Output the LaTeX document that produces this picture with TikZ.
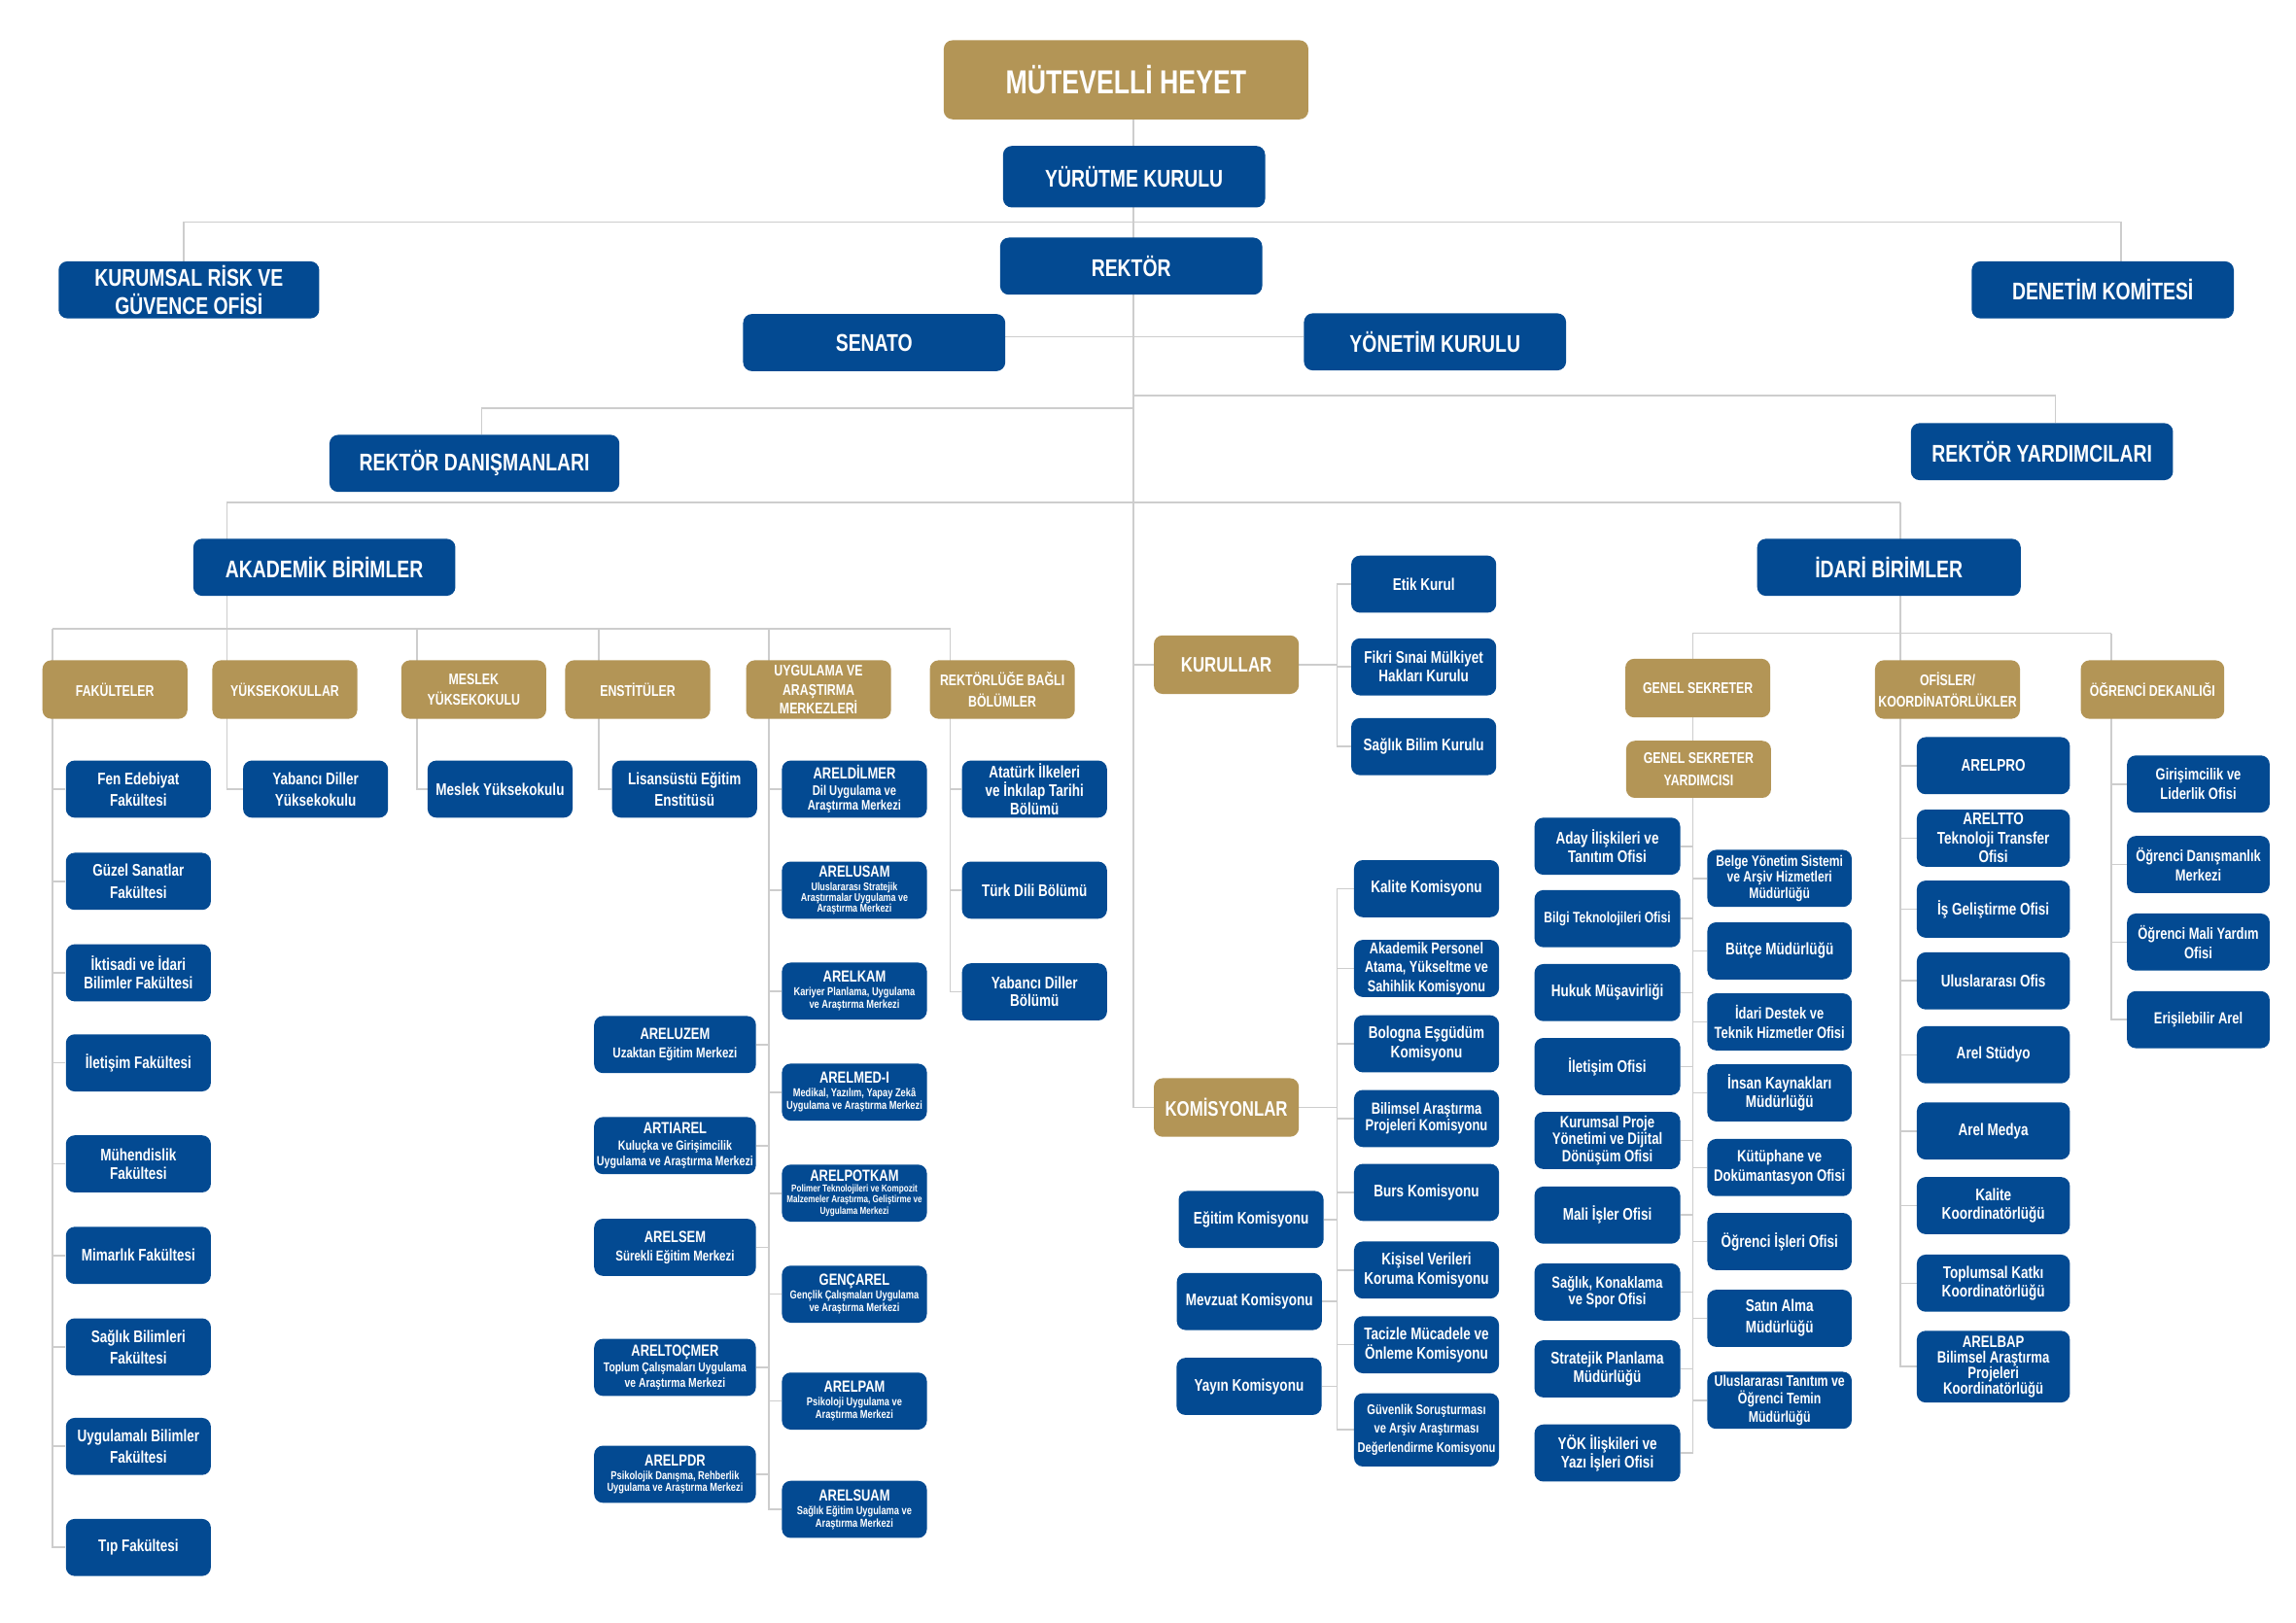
\documentclass[tikz,border=0pt]{standalone}
\usepackage{fontspec}
\usetikzlibrary{backgrounds}

\newfontfamily\arelfont[FakeStretch=0.78]{Liberation Sans}
\newcommand\fsz[2]{\fontsize{#1}{#2}\selectfont}

\definecolor{arelblue}{HTML}{034A92}
\definecolor{arelgold}{HTML}{B39556}
\definecolor{linegray}{HTML}{CDCDCD}

\tikzset{
  unit/.style={rounded corners=6pt, text=white, align=center, inner sep=0pt},
  txt/.style 2 args={font=\arelfont\bfseries\fsz{#1}{#2}},
  bluebox/.style={unit, fill=arelblue, minimum width=99pt, minimum height=39pt, txt={11.5}{13}},
  facbox/.style={bluebox, txt={11.5}{14.7}},
  arelbox/.style={bluebox},
  arelleft/.style={bluebox, minimum width=110.5pt},
  goldbox/.style={unit, fill=arelgold, minimum width=99pt, minimum height=40pt, txt={10.5}{14.5}},
  headbox/.style={unit, fill=arelblue, minimum width=179pt, minimum height=39pt, txt={16.5}{19}},
  conn/.style={draw=linegray, line width=1.1pt},
}

\begin{document}
\begin{tikzpicture}[x=1pt, y=-1pt]
	% Define coordinates
	% spine of the chart (spine), buses of the upper branches
	\coordinate (spine) at (774,0);
	\coordinate (kurumsaldrop) at (125.4,151.7);
	\coordinate (denetimdrop) at (1448.6,151.7);
	\coordinate (vicebus) at (1403.7,270);
	\coordinate (advbus) at (329,279);
	% left and right end of the bus to the units (akx, idx)
	\coordinate (akx) at (155,343);
	\coordinate (idx) at (1297.6,343);
	% academic bus and its drops
	\coordinate (akbusL) at (36,429.5);
	\coordinate (akbusR) at (649,429.5);
	\coordinate (meslekx) at (285,429.5);
	\coordinate (enstx) at (409,429.5);
	\coordinate (uygx) at (525,429.5);
	% boards and commissions (kurx), administrative bus (gsx, dekx)
	\coordinate (kurx) at (913,0);
	\coordinate (gsx) at (1156,432.5);
	\coordinate (dekx) at (1442,432.5);

	% Board, executive and rector level
	\node[goldbox, minimum width=249pt, minimum height=54pt, txt={22.7}{26}] (mutevelli) at (769,54.5) {MÜTEVELLİ HEYET};
	\node[headbox, minimum height=42pt] (yurutme) at (774.5,120.7) {YÜRÜTME KURULU};
	\node[headbox] (rektor) at (772.5,181.8) {REKTÖR};
	\node[headbox, minimum width=178pt] (kurumsal) at (129,198) {KURUMSAL RİSK VE\\GÜVENCE OFİSİ};
	\node[headbox] (denetim) at (1436,198) {DENETİM KOMİTESİ};
	\node[headbox] (senato) at (597,234) {SENATO};
	\node[headbox] (yonetim) at (980,233.5) {YÖNETİM KURULU};
	\node[headbox, minimum width=198pt] (danisman) at (324,316.5) {REKTÖR DANIŞMANLARI};
	\node[headbox] (yardimci) at (1394.5,308.5) {REKTÖR YARDIMCILARI};
	\node[headbox] (akademik) at (221.5,387.5) {AKADEMİK BİRİMLER};
	\node[headbox, minimum width=180pt] (idari) at (1290,387.5) {İDARİ BİRİMLER};

	% Academic groups
	\node[goldbox] (fak) at (78.5,471) {FAKÜLTELER};
	\node[goldbox] (yuksek) at (194.5,471) {YÜKSEKOKULLAR};
	\node[goldbox, txt={10.5}{14.2}] (meslek) at (323.5,471) {MESLEK\\YÜKSEKOKULU};
	\node[goldbox] (enst) at (435.5,471) {ENSTİTÜLER};
	\node[goldbox, txt={10.5}{13}] (uygmer) at (559,471) {UYGULAMA VE\\ARAŞTIRMA\\MERKEZLERİ};
	\node[goldbox] (bolum) at (684.5,471) {REKTÖRLÜĞE BAĞLI\\BÖLÜMLER};

	% Faculties
	\node[facbox] (fen) at (94.5,539) {Fen Edebiyat\\Fakültesi};
	\node[facbox] (guzel) at (94.5,602) {Güzel Sanatlar\\Fakültesi};
	\node[facbox, txt={11.5}{12.7}] (iktisat) at (94.5,664.5) {İktisadi ve İdari\\Bilimler Fakültesi};
	\node[facbox] (iletisim) at (94.5,726) {İletişim Fakültesi};
	\node[facbox, txt={11.5}{12.8}] (muhendis) at (94.5,795) {Mühendislik\\Fakültesi};
	\node[facbox] (mimar) at (94.5,857.5) {Mimarlık Fakültesi};
	\node[facbox] (sagbil) at (94.5,920) {Sağlık Bilimleri\\Fakültesi};
	\node[facbox] (uygbil) at (94.5,988) {Uygulamalı Bilimler\\Fakültesi};
	\node[facbox] (tip) at (94.5,1057) {Tıp Fakültesi};

	\node[facbox] (yabyo) at (215.5,539) {Yabancı Diller\\Yüksekokulu};
	\node[facbox] (myo) at (341.5,539) {Meslek Yüksekokulu};
	\node[facbox] (lisans) at (467.5,539) {Lisansüstü Eğitim\\Enstitüsü};

	% Research centres
	\node[arelbox, txt={9.5}{10.4}] (areldilmer) at (583.5,539) {{\fsz{11}{11}ARELDİLMER}\\[0.8pt]Dil Uygulama ve\\Araştırma Merkezi};
	\node[arelbox, txt={7.6}{7.3}] (arelusam) at (583.5,608) {{\fsz{11}{11}ARELUSAM}\\[2.4pt]Uluslararası Stratejik\\Araştırmalar Uygulama ve\\Araştırma Merkezi};
	\node[arelbox, txt={7.9}{9}] (arelkam) at (583.5,677) {{\fsz{11}{11}ARELKAM}\\Kariyer Planlama, Uygulama\\ve Araştırma Merkezi};
	\node[arelbox, txt={7.9}{9}] (arelmed) at (583.5,746) {{\fsz{11}{11}ARELMED-I}\\Medikal, Yazılım, Yapay Zekâ\\Uygulama ve Araştırma Merkezi};
	\node[arelbox, txt={6.9}{7.4}] (arelpotkam) at (583.5,815) {{\fsz{11}{11}ARELPOTKAM}\\Polimer Teknolojileri ve Kompozit\\Malzemeler Araştırma, Geliştirme ve\\Uygulama Merkezi};
	\node[arelbox, txt={7.9}{9}] (gencarel) at (583.5,884) {{\fsz{11}{11}GENÇAREL}\\Gençlik Çalışmaları Uygulama\\ve Araştırma Merkezi};
	\node[arelbox, txt={7.9}{8.7}] (arelpam) at (583.5,957) {{\fsz{11}{11}ARELPAM}\\[0.3pt]Psikoloji Uygulama ve\\Araştırma Merkezi};
	\node[arelbox, txt={7.9}{8.7}] (arelsuam) at (583.5,1031) {{\fsz{11}{11}ARELSUAM}\\[0.6pt]Sağlık Eğitim Uygulama ve\\Araştırma Merkezi};

	\node[arelleft, txt={9.8}{12.4}] (areluzem) at (461,713.5) {{\fsz{11}{11}ARELUZEM}\\Uzaktan Eğitim Merkezi};
	\node[arelleft, txt={9.1}{10.6}] (artiarel) at (461,782.5) {{\fsz{11}{11}ARTIAREL}\\[0.5pt]Kuluçka ve Girişimcilik\\Uygulama ve Araştırma Merkezi};
	\node[arelleft, txt={9.8}{12.8}] (arelsem) at (461,852) {{\fsz{11}{11}ARELSEM}\\Sürekli Eğitim Merkezi};
	\node[arelleft, txt={8.8}{10.6}] (areltocmer) at (461,934) {{\fsz{11}{11}ARELTOÇMER}\\[0.4pt]Toplum Çalışmaları Uygulama\\ve Araştırma Merkezi};
	\node[arelleft, txt={7.9}{7.5}] (arelpdr) at (461,1007) {{\fsz{11}{11}ARELPDR}\\[2.1pt]Psikolojik Danışma, Rehberlik\\Uygulama ve Araştırma Merkezi};

	% Departments attached to the rectorate
	\node[bluebox, txt={11.5}{12.8}] (ataturk) at (706.5,539) {Atatürk İlkeleri\\ve İnkılap Tarihi\\Bölümü};
	\node[bluebox] (turkdili) at (706.5,608) {Türk Dili Bölümü};
	\node[bluebox, txt={11.5}{11.9}] (yabbol) at (706.5,677.5) {Yabancı Diller\\Bölümü};

	% Boards
	\node[goldbox, txt={14.3}{16}] (kurullar) at (837.5,454) {KURULLAR};
	\node[bluebox] (etik) at (972.3,399) {Etik Kurul};
	\node[bluebox, txt={11.5}{12.8}] (fikri) at (972.3,455.5) {Fikri Sınai Mülkiyet\\Hakları Kurulu};
	\node[bluebox] (skurul) at (972.3,510) {Sağlık Bilim Kurulu};

	% Commissions
	\node[goldbox, txt={14.3}{16}] (komisyon) at (837.5,756.5) {KOMİSYONLAR};
	\node[bluebox] (kalite) at (974.2,607) {Kalite Komisyonu};
	\node[bluebox, txt={10.8}{13}] (akpers) at (974.2,661.5) {Akademik Personel\\Atama, Yükseltme ve\\Sahihlik Komisyonu};
	\node[bluebox, txt={11.5}{12.8}] (bologna) at (974.2,713) {Bologna Eşgüdüm\\Komisyonu};
	\node[bluebox, txt={11}{11.5}] (bilimsel) at (974.2,764) {Bilimsel Araştırma\\Projeleri Komisyonu};
	\node[bluebox] (burs) at (974.2,814.5) {Burs Komisyonu};
	\node[bluebox, txt={11.5}{13.3}] (kisisel) at (974.2,867.5) {Kişisel Verileri\\Koruma Komisyonu};
	\node[bluebox, txt={11.5}{13.3}] (taciz) at (974.2,918.5) {Tacizle Mücadele ve\\Önleme Komisyonu};
	\node[bluebox, minimum height=50pt, txt={9.5}{12.7}] (guvenlik) at (974.2,976.7) {Güvenlik Soruşturması\\ve Arşiv Araştırması\\Değerlendirme Komisyonu};
	\node[bluebox] (egitim) at (854.4,833) {Eğitim Komisyonu};
	\node[bluebox] (mevzuat) at (853.2,889) {Mevzuat Komisyonu};
	\node[bluebox] (yayin) at (853,947) {Yayın Komisyonu};

	% Administrative groups
	\node[goldbox, txt={10.5}{15}] (gensek) at (1159.5,470) {GENEL SEKRETER};
	\node[goldbox, minimum height=39pt, txt={10.5}{15}] (gsyard) at (1160,525.5) {GENEL SEKRETER\\YARDIMCISI};
	\node[goldbox, txt={10.5}{14.8}] (ofisler) at (1330,471) {OFİSLER/\\KOORDİNATÖRLÜKLER};
	\node[goldbox, minimum width=98pt] (ogrdek) at (1470,471) {ÖĞRENCİ DEKANLIĞI};

	% General secretary, left column
	\node[bluebox, minimum width=99.5pt] (aday) at (1097.7,578) {Aday İlişkileri ve\\Tanıtım Ofisi};
	\node[bluebox, minimum width=99.5pt, txt={10.3}{13}] (bilgi) at (1097.7,627.5) {Bilgi Teknolojileri Ofisi};
	\node[bluebox, minimum width=99.5pt] (hukuk) at (1097.7,678) {Hukuk Müşavirliği};
	\node[bluebox, minimum width=99.5pt] (iletofis) at (1097.7,728.5) {İletişim Ofisi};
	\node[bluebox, minimum width=99.5pt, txt={11.2}{11.6}] (kurproje) at (1097.7,779) {Kurumsal Proje\\Yönetimi ve Dijital\\Dönüşüm Ofisi};
	\node[bluebox, minimum width=99.5pt] (mali) at (1097.7,830) {Mali İşler Ofisi};
	\node[bluebox, minimum width=99.5pt, txt={11}{11.2}] (saglikofis) at (1097.7,882.5) {Sağlık, Konaklama\\ve Spor Ofisi};
	\node[bluebox, minimum width=99.5pt, txt={11.5}{12.8}] (stratejik) at (1097.7,935) {Stratejik Planlama\\Müdürlüğü};
	\node[bluebox, minimum width=99.5pt, txt={11.5}{12.6}] (yok) at (1097.7,992.5) {YÖK İlişkileri ve\\Yazı İşleri Ofisi};

	% General secretary, right column
	\node[bluebox, minimum width=98.6pt, txt={10.3}{11}] (belge) at (1215.3,600) {Belge Yönetim Sistemi\\ve Arşiv Hizmetleri\\Müdürlüğü};
	\node[bluebox, minimum width=98.6pt] (butce) at (1215.3,649.5) {Bütçe Müdürlüğü};
	\node[bluebox, minimum width=98.6pt, txt={11}{13}] (idestek) at (1215.3,698) {İdari Destek ve\\Teknik Hizmetler Ofisi};
	\node[bluebox, minimum width=98.6pt, txt={11.5}{12.7}] (insan) at (1215.3,746.5) {İnsan Kaynakları\\Müdürlüğü};
	\node[bluebox, minimum width=98.6pt, txt={11.2}{13.3}] (kutup) at (1215.3,797.5) {Kütüphane ve\\Dokümantasyon Ofisi};
	\node[bluebox, minimum width=98.6pt] (ogrisl) at (1215.3,848) {Öğrenci İşleri Ofisi};
	\node[bluebox, minimum width=98.6pt, txt={11.5}{14.6}] (satin) at (1215.3,900.5) {Satın Alma\\Müdürlüğü};
	\node[bluebox, minimum width=98.6pt, txt={10.5}{12}] (ulustan) at (1215.3,956.5) {Uluslararası Tanıtım ve\\Öğrenci Temin\\Müdürlüğü};

	% Offices and coordinatorships
	\node[bluebox, minimum width=104.5pt] (arelpro) at (1361.3,523) {ARELPRO};
	\node[bluebox, minimum width=104.5pt, txt={11.5}{13}] (areltto) at (1361.3,572.5) {ARELTTO\\Teknoloji Transfer\\Ofisi};
	\node[bluebox, minimum width=104.5pt] (isgel) at (1361.3,621) {İş Geliştirme Ofisi};
	\node[bluebox, minimum width=104.5pt] (ulusofis) at (1361.3,670) {Uluslararası Ofis};
	\node[bluebox, minimum width=104.5pt] (studyo) at (1361.3,720.5) {Arel Stüdyo};
	\node[bluebox, minimum width=104.5pt] (medya) at (1361.3,772.5) {Arel Medya};
	\node[bluebox, minimum width=104.5pt, txt={11.5}{12.8}] (kalkoord) at (1361.3,823.5) {Kalite\\Koordinatörlüğü};
	\node[bluebox, minimum width=104.5pt, txt={11.5}{12.6}] (topkatki) at (1361.3,876.5) {Toplumsal Katkı\\Koordinatörlüğü};
	\node[bluebox, minimum width=104.5pt, minimum height=49pt, txt={11.2}{10.7}] (arelbap) at (1361.3,933.5) {ARELBAP\\Bilimsel Araştırma\\Projeleri\\Koordinatörlüğü};

	% Dean of students
	\node[bluebox, minimum width=97.4pt, txt={11}{12.8}] (girisim) at (1501.3,535.5) {Girişimcilik ve\\Liderlik Ofisi};
	\node[bluebox, minimum width=97.4pt, txt={11}{13.3}] (ogrdan) at (1501.3,590.5) {Öğrenci Danışmanlık\\Merkezi};
	\node[bluebox, minimum width=97.4pt, txt={11}{13}] (maliyard) at (1501.3,643.5) {Öğrenci Mali Yardım\\Ofisi};
	\node[bluebox, minimum width=97.4pt, txt={11}{13}] (erisim) at (1501.3,696.5) {Erişilebilir Arel};

	\begin{pgfonlayer}{background}
	% Fill background
	\fill[white] (0,0) rectangle (1568,1108.6);

	% Spine from the board of trustees down to the commissions
	\draw[conn] (mutevelli.south -| spine) -- (spine |- komisyon.west) -- (komisyon.west);

	% Upper branches
	\draw[conn] (kurumsal.north -| kurumsaldrop) -- (kurumsaldrop) -- (denetimdrop) -- (denetimdrop |- denetim.north);
	\draw[conn] ([yshift=4pt]senato.east) -- ([yshift=4pt]senato.east -| yonetim.west);
	\draw[conn] (spine |- vicebus) -- (vicebus) -- (vicebus |- yardimci.north);
	\draw[conn] (spine |- advbus) -- (advbus) -- (advbus |- danisman.north);

	% Bus to the academic and administrative units
	\draw[conn] (akx) -- (idx);
	\draw[conn] (akx) |- (yabyo.west);
	\draw[conn] (idx) |- (arelbap.west);

	% Academic bus and the columns below it
	\draw[conn] (akbusL) -- (akbusR);
	\draw[conn] (akbusL) |- (tip.west);
	\draw[conn] (meslekx) |- (myo.west);
	\draw[conn] (enstx) |- (lisans.west);
	\draw[conn] (uygx) |- (arelsuam.west);
	\draw[conn] (akbusR) |- (yabbol.west);
	\foreach \n in {fen,guzel,iktisat,iletisim,muhendis,mimar,sagbil,uygbil}
		\draw[conn] (akbusL |- \n.west) -- (\n.west);
	\foreach \n in {areldilmer,arelusam,arelkam,arelmed,arelpotkam,gencarel,arelpam}
		\draw[conn] (uygx |- \n.west) -- (\n.west);
	\foreach \n in {areluzem,artiarel,arelsem,areltocmer,arelpdr}
		\draw[conn] (\n.east) -- (uygx |- \n.east);
	\foreach \n in {ataturk,turkdili}
		\draw[conn] (akbusR |- \n.west) -- (\n.west);

	% Boards and commissions
	\draw[conn] (spine |- kurullar.west) -- (kurullar.west);
	\draw[conn] (kurullar.east) -- (kurx |- kurullar.east);
	\draw[conn] (etik.west) -- (kurx |- etik.west) -- (kurx |- skurul.west) -- (skurul.west);
	\draw[conn] (kurx |- fikri.west) -- (fikri.west);
	\draw[conn] (komisyon.east) -- (kurx |- komisyon.east);
	\draw[conn] (kalite.west) -- (kurx |- kalite.west) -- (kurx |- guvenlik.west) -- (guvenlik.west);
	\foreach \n in {akpers,bologna,bilimsel,burs,kisisel,taciz}
		\draw[conn] (kurx |- \n.west) -- (\n.west);
	\foreach \n in {egitim,mevzuat,yayin}
		\draw[conn] (\n.east) -- (kurx |- \n.east);

	% Administrative bus and the columns below it
	\draw[conn] (gsx) -- (dekx);
	\draw[conn] (gsx) |- (yok.east);
	\draw[conn] (dekx) |- (erisim.west);
	\foreach \n in {aday,bilgi,hukuk,iletofis,kurproje,mali,saglikofis,stratejik}
		\draw[conn] (\n.east) -- (gsx |- \n.east);
	\foreach \n in {belge,butce,idestek,insan,kutup,ogrisl,satin,ulustan}
		\draw[conn] (gsx |- \n.west) -- (\n.west);
	\foreach \n in {arelpro,areltto,isgel,ulusofis,studyo,medya,kalkoord,topkatki}
		\draw[conn] (idx |- \n.west) -- (\n.west);
	\foreach \n in {girisim,ogrdan,maliyard}
		\draw[conn] (dekx |- \n.west) -- (\n.west);
	\end{pgfonlayer}
\end{tikzpicture}
\end{document}
